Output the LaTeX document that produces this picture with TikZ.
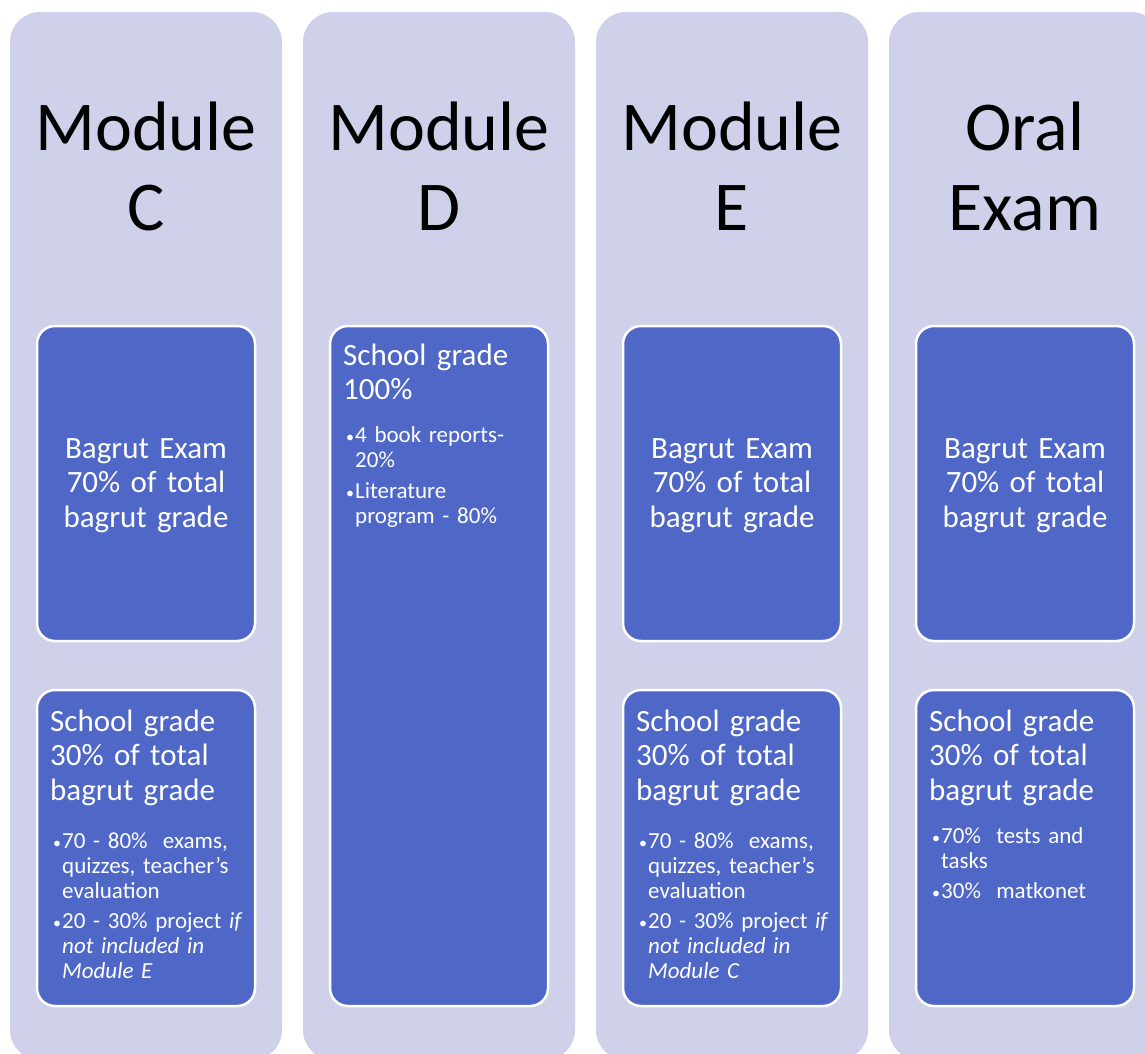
\documentclass[tikz,border=0pt]{standalone}
\usepackage{fontspec}
\setmainfont{Carlito}
\definecolor{lav}{RGB}{207,209,235}
\definecolor{blu}{RGB}{79,103,199}
\newcommand{\bitem}[1]{\noindent\hangindent=12pt\hangafter=1\rightskip=0pt plus 1fil\makebox[12pt][l]{\hspace{3pt}{\fontsize{16}{16}\selectfont\textbullet}}#1\par}
\begin{document}
\begin{tikzpicture}[x=1pt,y=-1pt,
  colst/.style={fill=lav, rounded corners=30pt},
  boxst/.style={fill=blu, draw=white, line width=2.5pt, rounded corners=18pt},
  head/.style={anchor=base, text width=260pt, align=center, inner sep=0pt, font=\fontsize{70}{80}\selectfont},
  exam/.style={anchor=base, text width=210pt, align=center, inner sep=0pt, text=white, font=\fontsize{31}{34.5}\selectfont},
  shead/.style={anchor=base west, text width=200pt, align=left, inner sep=0pt, text=white, font=\fontsize{31}{34.5}\selectfont},
  blist/.style={anchor=base west, text width=203pt, inner sep=0pt, text=white, font=\fontsize{23}{25}\selectfont}]
\useasboundingbox (0,0) rectangle (1145,1053);
\begin{scope}
\clip (0,0) rectangle (1145,1053);
\fill[colst] (10,12) rectangle (282,1060);
\fill[colst] (303,12) rectangle (575,1060);
\fill[colst] (596,12) rectangle (868,1060);
\fill[colst] (889,12) rectangle (1161,1060);
\end{scope}
% column 1
\draw[boxst] (37,326) rectangle (255,641);
\draw[boxst] (37,690) rectangle (255,1006);
% column 2
\draw[boxst] (330,326) rectangle (548,1006);
% column 3
\draw[boxst] (623,326) rectangle (841,641);
\draw[boxst] (623,690) rectangle (841,1006);
% column 4
\draw[boxst] (916,326) rectangle (1134,641);
\draw[boxst] (916,690) rectangle (1134,1006);
% headings
\node[head] (hC) at (146,150) {Module\\C};
\node[head] (hD) at (439,150) {Module\\D};
\node[head] (hE) at (732,150) {Module\\E};
\node[head] (hO) at (1025,150) {Oral\\Exam};
% exam boxes
\node[exam] (eC) at (146,458) {Bagrut Exam\\70\% of total\\bagrut grade};
\node[exam] (eE) at (732,458) {Bagrut Exam\\70\% of total\\bagrut grade};
\node[exam] (eO) at (1025,458) {Bagrut Exam\\70\% of total\\bagrut grade};
% column 1 school grade
\node[shead] (sC) at (50,731) {School grade\\30\% of total\\bagrut grade};
\node[blist] (bC) at (50,848) {\setlength{\parskip}{5pt}%
\bitem{70 - 80\%\ \ exams,\newline quizzes, teacher’s\newline evaluation}%
\bitem{20 - 30\% project \textit{if}\newline \textit{not included in}\newline \textit{Module E}}};
% column 2
\node[shead] (sD) at (343,365) {School grade\\100\%};
\node[blist] (bD) at (343,442) {\setlength{\parskip}{6pt}%
\bitem{4 book reports-\newline 20\%}%
\bitem{Literature\newline program - 80\%}};
% column 3
\node[shead] (sE) at (636,731) {School grade\\30\% of total\\bagrut grade};
\node[blist] (bE) at (636,848) {\setlength{\parskip}{5pt}%
\bitem{70 - 80\%\ \ exams,\newline quizzes, teacher’s\newline evaluation}%
\bitem{20 - 30\% project \textit{if}\newline \textit{not included in}\newline \textit{Module C}}};
% column 4
\node[shead] (sO) at (929,731) {School grade\\30\% of total\\bagrut grade};
\node[blist] (bO) at (929,843) {\setlength{\parskip}{5pt}%
\bitem{70\%\ \ tests and\newline tasks}%
\bitem{30\%\ \ matkonet}};
\end{tikzpicture}
\end{document}
